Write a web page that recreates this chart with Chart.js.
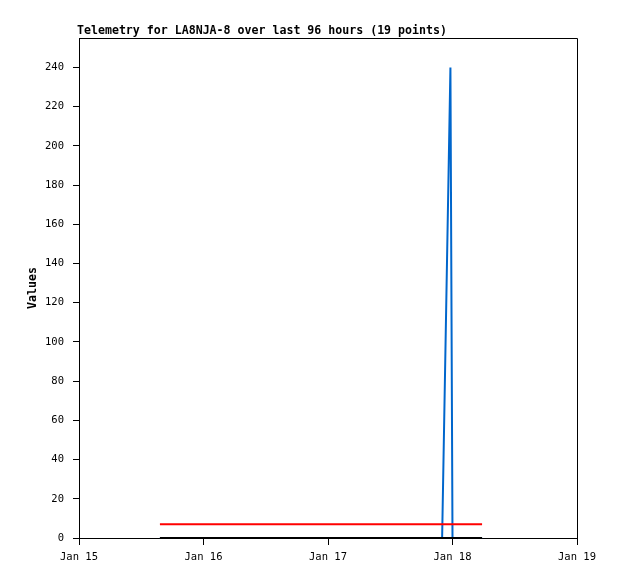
<!DOCTYPE html>
<html>
<head>
<meta charset="utf-8">
<script src="https://cdn.jsdelivr.net/npm/chart.js@4/dist/chart.umd.min.js"></script>
<style>
  body { margin: 0; background: #fff; }
  canvas { display: block; }
</style>
</head>
<body>
<canvas id="telemetryChart" width="618" height="579"></canvas>
<script>
// hours since Jan 15 00:00
const sampleHours = [15.6, 19.0, 22.5, 26.0, 29.5, 33.0, 36.5, 40.0, 43.5, 47.0,
                     50.5, 54.0, 57.5, 61.0, 66.0, 70.0, 71.6, 72.0, 77.7];
const blueValues  = [0, 0, 0, 0, 0, 0, 0, 0, 0, 0, 0, 0, 0, 0, 0, 0, 240, 0, 0];
const redValues   = [7, 7, 7, 7, 7, 7, 7, 7, 7, 7, 7, 7, 7, 7, 7, 7, 7, 7, 7];
const blackValues = [0, 0, 0, 0, 0, 0, 0, 0, 0, 0, 0, 0, 0, 0, 0, 0, 0, 0, 0];
const xTickLabels = ['Jan 15', 'Jan 16', 'Jan 17', 'Jan 18', 'Jan 19'];
const titleText = 'Telemetry for LA8NJA-8 over last 96 hours (19 points)';

function toPoints(values) {
  return sampleHours.map((h, i) => ({ x: h, y: values[i] }));
}

// title + frame (top and right edges of the plot box)
const framePlugin = {
  id: 'frame',
  afterDraw(chart) {
    const ctx = chart.ctx;
    const a = chart.chartArea;
    ctx.save();
    ctx.strokeStyle = '#000';
    ctx.lineWidth = 1;
    ctx.beginPath();
    ctx.moveTo(a.left, a.top + 0.5);
    ctx.lineTo(a.right + 0.5, a.top + 0.5);
    ctx.lineTo(a.right + 0.5, a.bottom);
    ctx.stroke();
    ctx.fillStyle = '#000';
    ctx.font = 'bold 11.6px "DejaVu Sans Mono"';
    ctx.textBaseline = 'middle';
    ctx.textAlign = 'left';
    ctx.fillText(titleText, 77, 31);
    ctx.restore();
  }
};

const ctx = document.getElementById('telemetryChart').getContext('2d');
const telemetryChart = new Chart(ctx, {
  type: 'line',
  data: {
    datasets: [{
      label: 'black',
      data: toPoints(blackValues),
      borderColor: '#000000',
      borderWidth: 2
    }, {
      label: 'red',
      data: toPoints(redValues),
      borderColor: '#ff0000',
      borderWidth: 2
    }, {
      label: 'blue',
      data: toPoints(blueValues),
      borderColor: '#0066cc',
      borderWidth: 2
    }]
  },
  options: {
    responsive: false,
    animation: false,
    events: [],
    layout: {
      padding: { top: 38, right: 41, left: 0, bottom: 0 }
    },
    elements: {
      point: { radius: 0 },
      line: { tension: 0, fill: false }
    },
    datasets: {
      line: { clip: false }
    },
    plugins: {
      legend: { display: false },
      tooltip: { enabled: false }
    },
    scales: {
      x: {
        type: 'linear',
        min: 0,
        max: 96,
        afterFit: (s) => { s.height = 41; },
        grid: {
          drawOnChartArea: false,
          color: '#000',
          tickLength: 7
        },
        border: { color: '#000' },
        ticks: {
          stepSize: 24,
          padding: 6,
          color: '#000',
          maxRotation: 0,
          font: { family: 'DejaVu Sans Mono', size: 10.5 },
          callback: (v) => xTickLabels[v / 24]
        }
      },
      y: {
        min: 0,
        max: 255,
        afterFit: (s) => { s.width = 79; },
        afterBuildTicks: (s) => { s.ticks = s.ticks.filter(t => t.value % 20 === 0); },
        grid: {
          drawOnChartArea: false,
          color: '#000',
          tickLength: 6
        },
        border: { color: '#000' },
        title: {
          display: true,
          text: 'Values',
          color: '#000',
          padding: { top: 26 },
          font: { family: 'DejaVu Sans Mono', size: 11.6, weight: 'bold' }
        },
        ticks: {
          stepSize: 20,
          padding: 9,
          color: '#000',
          font: { family: 'DejaVu Sans Mono', size: 10.5 }
        }
      }
    }
  },
  plugins: [framePlugin]
});
</script>
</body>
</html>
